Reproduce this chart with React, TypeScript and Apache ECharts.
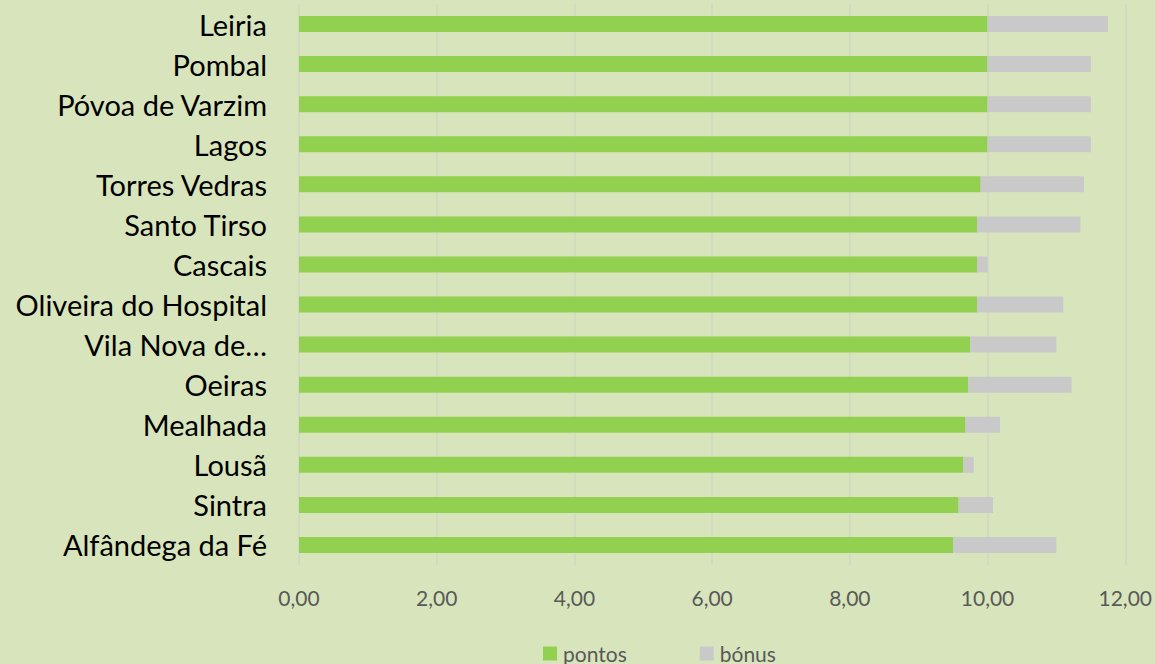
import React, { useEffect, useRef } from "react";
import * as echarts from "echarts";

const categories = [
  "Leiria",
  "Pombal",
  "Póvoa de Varzim",
  "Lagos",
  "Torres Vedras",
  "Santo Tirso",
  "Cascais",
  "Oliveira do Hospital",
  "Vila Nova de…",
  "Oeiras",
  "Mealhada",
  "Lousã",
  "Sintra",
  "Alfândega da Fé",
];

const pontos = [10.0, 10.0, 10.0, 10.0, 9.9, 9.85, 9.85, 9.85, 9.75, 9.72, 9.68, 9.65, 9.58, 9.5];
const bonus = [1.75, 1.5, 1.5, 1.5, 1.5, 1.5, 0.15, 1.25, 1.25, 1.5, 0.5, 0.15, 0.5, 1.5];

const xTicks = { min: 0, max: 12, interval: 2 };

export default function App() {
  const ref = useRef<HTMLDivElement>(null);
  useEffect(() => {
    if (!ref.current) return;
    const chart = echarts.init(ref.current, null, { renderer: "svg" });
    const font = "Lato";
    chart.setOption({
      animation: false,
      backgroundColor: "#D8E5BC",
      textStyle: { fontFamily: font },
      grid: { left: 299, right: 29, top: 4, bottom: 99, containLabel: false },
      legend: {
        data: ["pontos", "bónus"],
        left: 538,
        top: 638,
        itemWidth: 14,
        itemHeight: 14,
        itemGap: 73,
        icon: "rect",
        textStyle: { fontSize: 21, color: "#595959", fontFamily: font, padding: [0, 0, 0, 1] },
      },
      xAxis: {
        type: "value",
        min: xTicks.min,
        max: xTicks.max,
        interval: xTicks.interval,
        axisLine: { show: false },
        axisTick: { show: false },
        splitLine: { show: true, lineStyle: { color: "#D0D6C4", width: 1.5 } },
        axisLabel: {
          color: "#595959",
          fontSize: 21,
          fontFamily: font,
          margin: 22,
          formatter: (v: number) => v.toFixed(2).replace(".", ","),
        },
      },
      yAxis: {
        type: "category",
        inverse: true,
        data: categories,
        axisLine: { show: false },
        axisTick: { show: false },
        axisLabel: { color: "#000000", fontSize: 29, fontFamily: font, margin: 32 },
      },
      series: [
        {
          name: "pontos",
          type: "bar",
          stack: "total",
          data: pontos,
          barWidth: 16,
          itemStyle: { color: "#92D050" },
        },
        {
          name: "bónus",
          type: "bar",
          stack: "total",
          data: bonus,
          barWidth: 16,
          itemStyle: { color: "#C9C9C9" },
        },
      ],
    });
    return () => chart.dispose();
  }, []);
  return (
    <div
      ref={ref}
      style={{ position: "absolute", left: 0, top: 0, width: 1155, height: 664 }}
    />
  );
}
